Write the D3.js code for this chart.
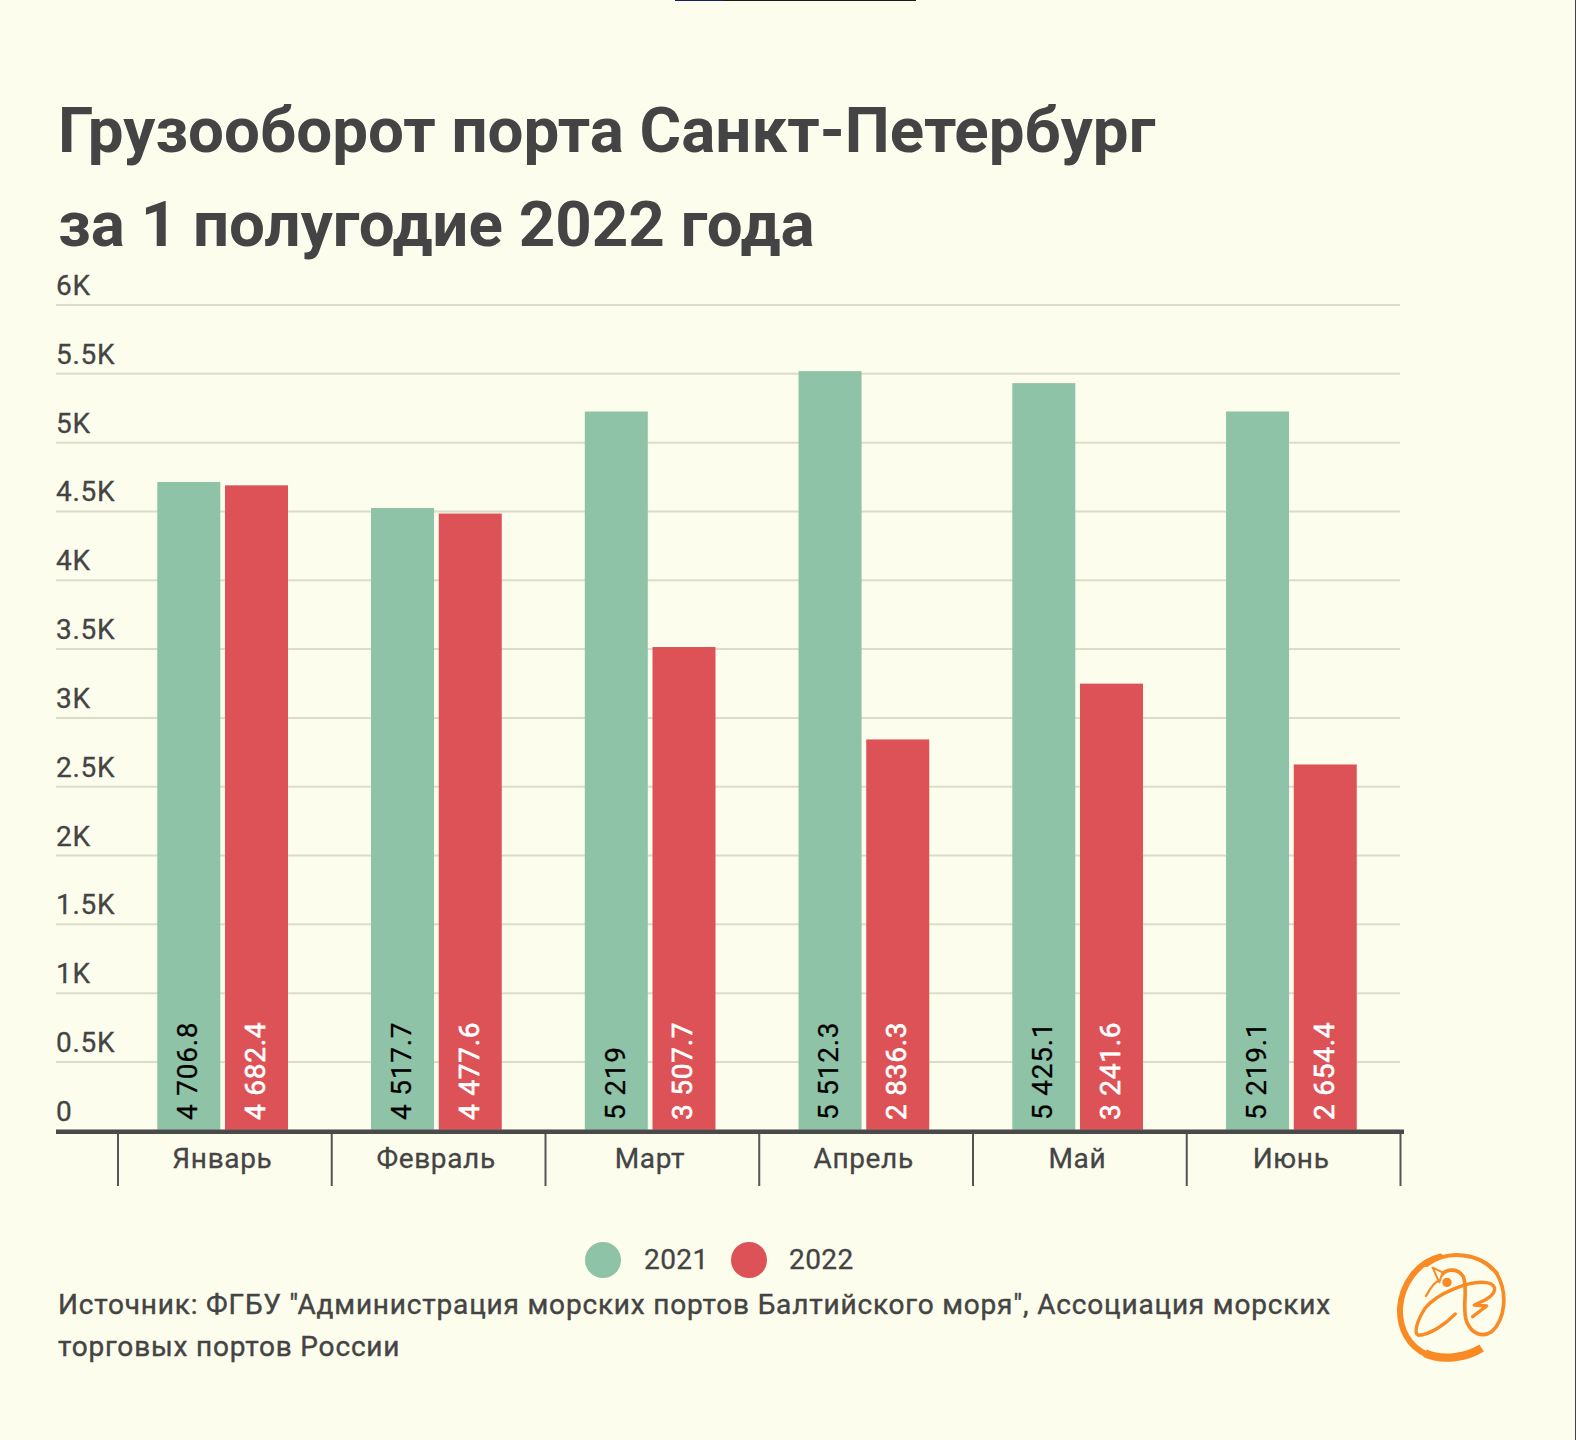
<!DOCTYPE html>
<html>
<head>
<meta charset="utf-8">
<script src="https://cdn.jsdelivr.net/npm/d3@7"></script>
<style>
html, body { margin: 0; padding: 0; background: #fcfdec; }
svg { display: block; font-family: Roboto, sans-serif; }
</style>
</head>
<body>
<div id="chart"></div>
<script>
// data
var months = ["Январь", "Февраль", "Март", "Апрель", "Май", "Июнь"];
var values2021 = [4706.8, 4517.7, 5219, 5512.3, 5425.1, 5219.1];
var values2022 = [4682.4, 4477.6, 3507.7, 2836.3, 3241.6, 2654.4];
var labels2021 = ["4 706.8", "4 517.7", "5 219", "5 512.3", "5 425.1", "5 219.1"];
var labels2022 = ["4 682.4", "4 477.6", "3 507.7", "2 836.3", "3 241.6", "2 654.4"];
var years = ["2021", "2022"];
var yTicks = [0, 500, 1000, 1500, 2000, 2500, 3000, 3500, 4000, 4500, 5000, 5500, 6000];
var yTickLabels = ["0", "0.5K", "1K", "1.5K", "2K", "2.5K", "3K", "3.5K", "4K", "4.5K", "5K", "5.5K", "6K"];
var titleLines = ["Грузооборот порта Санкт-Петербург", "за 1 полугодие 2022 года"];
var sourceLines = ["Источник: ФГБУ \"Администрация морских портов Балтийского моря\", Ассоциация морских", "торговых портов России"];

var svgWidth = 1576;
var svgHeight = 1440;
var textColor = "#444444";
var colors = { "2021": "#8fc3a8", "2022": "#dd5256" };

var svg = d3.select("#chart").append("svg")
    .attr("width", svgWidth)
    .attr("height", svgHeight);

// lines at the edges of the screenshot
svg.append("rect").attr("x", 675).attr("y", 0).attr("width", 241).attr("height", 1).attr("fill", "#1a1a1a");
svg.append("rect").attr("x", 675).attr("y", 0).attr("width", 48).attr("height", 1).attr("fill", "#1c1c6e");
svg.append("rect").attr("x", 1575).attr("y", 0).attr("width", 1).attr("height", svgHeight).attr("fill", "#444444");

// title
svg.selectAll(".title").data(titleLines).enter().append("text")
    .attr("class", "title")
    .attr("x", 58)
    .attr("y", function(d, i) { return 151.5 + i * 94; })
    .attr("font-size", 63.7)
    .attr("font-weight", 700)
    .attr("fill", textColor)
    .text(function(d) { return d; });

// scales
var y = d3.scaleLinear().domain([0, 6000]).range([1129.8, 304]);
var x = d3.scaleBand().domain(months).range([118, 1400.5]).paddingInner(0).paddingOuter(0);

// grid lines
var yAxis = d3.axisRight(y)
    .tickValues(yTicks)
    .tickSize(1344)
    .tickFormat(function(d, i) { return yTickLabels[i]; });

var yGroup = svg.append("g")
    .attr("transform", "translate(56,0.5)")
    .call(yAxis);
yGroup.select(".domain").remove();
yGroup.selectAll("line").attr("stroke", "#dcdccb").attr("stroke-width", 2);
yGroup.selectAll("text")
    .attr("x", 0)
    .attr("dy", -10)
    .attr("text-anchor", "start")
    .attr("font-family", "Roboto, sans-serif")
    .attr("font-size", 28)
    .attr("letter-spacing", 0.7)
    .attr("stroke", textColor)
    .attr("stroke-width", 0.3)
    .attr("fill", textColor);

// bars
var barWidth = 63;
var barOffsets = { "2021": 39.3, "2022": 107 };

function drawSeries(values, labels, year, labelColor) {
    var g = svg.append("g").attr("class", "series-" + year);
    g.selectAll("rect").data(values).enter().append("rect")
        .attr("x", function(d, i) { return x(months[i]) + barOffsets[year]; })
        .attr("y", function(d) { return y(d); })
        .attr("width", barWidth)
        .attr("height", function(d) { return y(0) - y(d); })
        .attr("fill", colors[year]);
    g.selectAll("text").data(labels).enter().append("text")
        .attr("transform", function(d, i) {
            var cx = x(months[i]) + barOffsets[year] + barWidth / 2 - 1.5;
            return "translate(" + cx + ",1120) rotate(-90)";
        })
        .attr("dy", "0.35em")
        .attr("font-size", 28)
        .attr("letter-spacing", 0.75)
        .attr("stroke", labelColor)
        .attr("stroke-width", year == "2022" ? 0.6 : 0.25)
        .attr("fill", labelColor)
        .text(function(d) { return d; });
}
drawSeries(values2021, labels2021, "2021", "#000000");
drawSeries(values2022, labels2022, "2022", "#ffffff");

// x axis
var xAxis = d3.axisBottom(x).tickSize(0).tickPadding(17);
var xGroup = svg.append("g")
    .attr("transform", "translate(-2.5,1131.5)")
    .call(xAxis);
xGroup.select(".domain").remove();
xGroup.selectAll("text")
    .attr("font-family", "Roboto, sans-serif")
    .attr("font-size", 28)
    .attr("letter-spacing", 0.65)
    .attr("stroke", textColor)
    .attr("stroke-width", 0.3)
    .attr("fill", textColor);

svg.selectAll(".sep").data(d3.range(months.length + 1)).enter().append("line")
    .attr("class", "sep")
    .attr("x1", function(i) { return x.range()[0] + i * x.step(); })
    .attr("x2", function(i) { return x.range()[0] + i * x.step(); })
    .attr("y1", 1130)
    .attr("y2", 1186)
    .attr("stroke", "#555555")
    .attr("stroke-width", 2);

svg.append("line")
    .attr("x1", 56).attr("x2", 1404)
    .attr("y1", y(0) + 1.9).attr("y2", y(0) + 1.9)
    .attr("stroke", "#4a4a4a")
    .attr("stroke-width", 4.5);

// legend
var legendItems = [
    { year: years[0], cx: 603, tx: 644 },
    { year: years[1], cx: 749, tx: 789 }
];
var legend = svg.append("g").selectAll("g").data(legendItems).enter().append("g");
legend.append("circle")
    .attr("cx", function(d) { return d.cx; })
    .attr("cy", 1260)
    .attr("r", 18)
    .attr("fill", function(d) { return colors[d.year]; });
legend.append("text")
    .attr("x", function(d) { return d.tx; })
    .attr("y", 1269)
    .attr("font-size", 28)
    .attr("letter-spacing", 0.4)
    .attr("stroke", textColor)
    .attr("stroke-width", 0.3)
    .attr("fill", textColor)
    .text(function(d) { return d.year; });

// source
svg.selectAll(".source").data(sourceLines).enter().append("text")
    .attr("class", "source")
    .attr("x", 58)
    .attr("y", function(d, i) { return 1314 + i * 42; })
    .attr("font-size", 28)
    .attr("letter-spacing", 0.82)
    .attr("stroke", textColor)
    .attr("stroke-width", 0.4)
    .attr("fill", textColor)
    .text(function(d) { return d; });

// logo
var logo = svg.append("g")
    .attr("transform", "translate(1340,1220) scale(0.3333)")
    .attr("fill", "none")
    .attr("stroke", "#f98a24")
    .attr("stroke-linecap", "round")
    .attr("stroke-linejoin", "round");
logo.append("path")
    .attr("d", "M425 384 C385 410 310 425 255 400")
    .attr("stroke-width", 25).attr("stroke-linecap", "butt");
logo.append("path")
    .attr("d", "M262 404 C205 380 178 325 180 265 C185 190 235 125 300 110")
    .attr("stroke-width", 18);
logo.append("path")
    .attr("d", "M260 135 C320 90 420 95 470 160")
    .attr("stroke-width", 12);
logo.append("path")
    .attr("d", "M470 160 C505 220 495 300 455 335 C425 355 395 340 380 305 C365 265 385 210 370 170 C355 145 320 145 305 165")
    .attr("stroke-width", 11);
logo.append("path")
    .attr("d", "M258 228 C270 205 285 185 300 180")
    .attr("stroke-width", 7);
logo.append("path")
    .attr("d", "M278 143 L308 157 L298 187 Z")
    .attr("stroke-width", 6)
    .attr("fill", "#fcfdec");
logo.append("circle")
    .attr("cx", 321).attr("cy", 187).attr("r", 14)
    .attr("fill", "#f98a24").attr("stroke", "none");
logo.append("path")
    .attr("d", "M346 282 C320 310 270 345 235 346 C220 340 232 300 255 265 C290 220 390 180 440 188 C475 195 470 220 435 240 L403 255 L440 258 L398 290")
    .attr("stroke-width", 10);
</script>
</body>
</html>
